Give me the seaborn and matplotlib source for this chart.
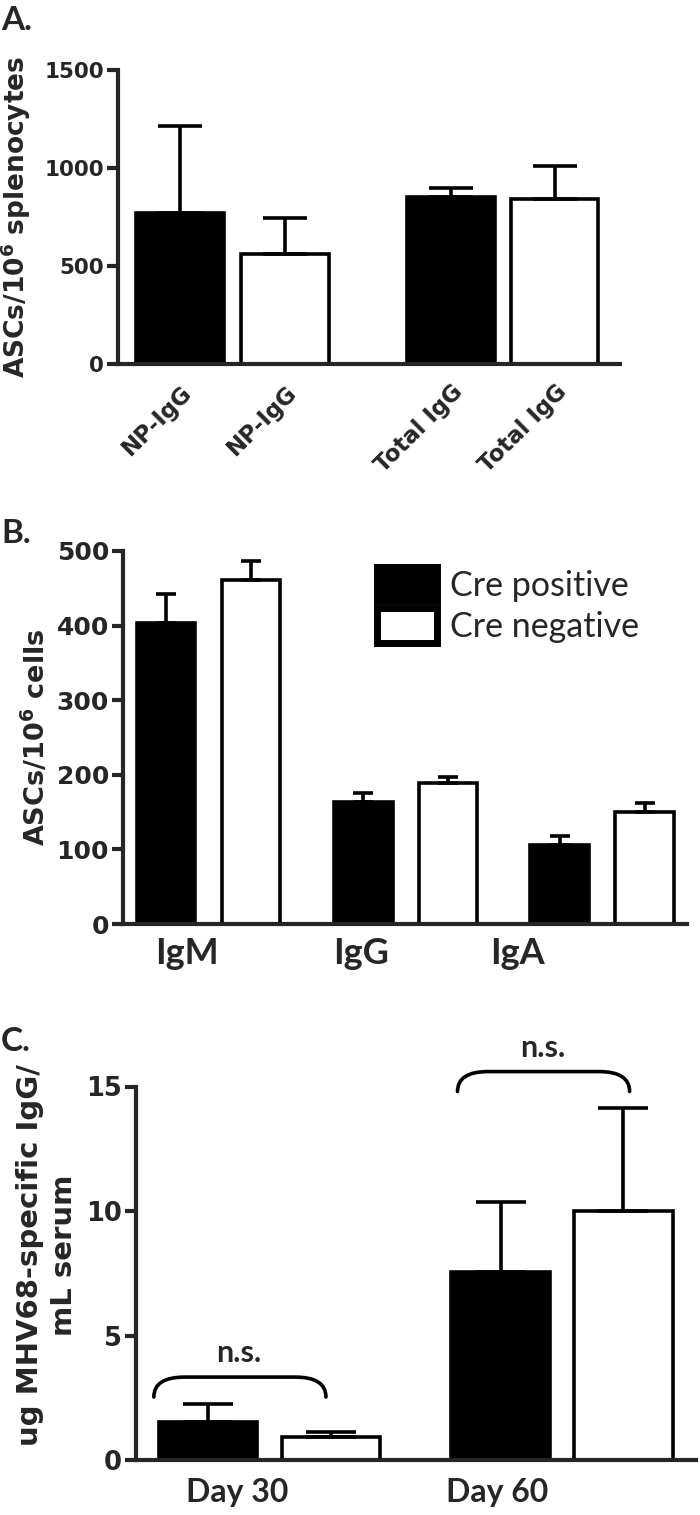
import numpy as np
import pandas as pd
import matplotlib
matplotlib.use("Agg")
import matplotlib.pyplot as plt
import seaborn as sns
from matplotlib.path import Path
from matplotlib.patches import PathPatch

# ---- data ----
groups = ["Cre positive", "Cre negative"]
group_colors = {"Cre positive": "black", "Cre negative": "white"}

# panel A
a_labels = ["NP-IgG", "NP-IgG", "Total IgG", "Total IgG"]
a_group = ["Cre positive", "Cre negative", "Cre positive", "Cre negative"]
a_mean = [769, 561, 852, 842]
a_err = [445, 184, 46, 170]

# panel B
b_iso = ["IgM", "IgM", "IgG", "IgG", "IgA", "IgA"]
b_group = ["Cre positive", "Cre negative"] * 3
b_mean = [403, 461, 164, 189, 106, 150]
b_err = [39, 25, 11, 8, 12, 12]

# panel C
c_day = ["Day 30", "Day 30", "Day 60", "Day 60"]
c_group = ["Cre positive", "Cre negative"] * 2
c_mean = [1.53, 0.91, 7.56, 10.02]
c_err = [0.71, 0.21, 2.81, 4.12]

# ---- layout (bar slots along x) ----
a_pos = [0, 1, 2.58, 3.57]
b_pos = [0, 1, 2.32, 3.32, 4.63, 5.63]
c_pos = [0, 1, 2.38, 3.38]
b_tick_pos = [0.25, 2.30, 4.14]
c_tick_pos = [0.24, 2.35]

sns.set_style("ticks")
plt.rcParams["font.family"] = ["DejaVu Sans"]
plt.rcParams["mathtext.fontset"] = "dejavusans"

W, H = 700, 1515
fig = plt.figure(figsize=(W / 100, H / 100), dpi=100)


def rect(left, top, right, bottom):
    return [left / W, 1 - bottom / H, (right - left) / W, (bottom - top) / H]


def bar_panel(ax, pos, means, errs, grp, bar_w, capsize, show_legend=False):
    df = pd.DataFrame({"pos": pos, "val": means, "group": grp})
    step = np.diff(sorted(pos)).min()
    sns.barplot(data=df, x="pos", y="val", hue="group", hue_order=groups,
                palette=group_colors, dodge=False, native_scale=True,
                width=bar_w / step, saturation=1, edgecolor="black",
                linewidth=2.6, legend=show_legend, ax=ax)
    ax.errorbar(pos, means, yerr=[np.zeros(len(errs)), errs], fmt="none",
                ecolor="black", elinewidth=2.6, capsize=capsize, capthick=2.6,
                zorder=1)
    for s in ["top", "right"]:
        ax.spines[s].set_visible(False)
    for s in ["left", "bottom"]:
        ax.spines[s].set_linewidth(3)
    ax.tick_params(axis="y", length=8, width=3, pad=2)
    ax.tick_params(axis="x", length=0)
    ax.set_xlabel("")


def bracket(ax, x0, x1, ytop, yend, r):
    verts = [(x0, yend), (x0, ytop), (x0 + r, ytop), (x1 - r, ytop),
             (x1, ytop), (x1, yend)]
    codes = [Path.MOVETO, Path.CURVE3, Path.CURVE3, Path.LINETO,
             Path.CURVE3, Path.CURVE3]
    ax.add_patch(PathPatch(Path(verts, codes), fill=False, lw=2.6,
                           ec="black", clip_on=False, capstyle="round"))


# ---- panel A ----
axA = fig.add_axes(rect(118, 70, 620, 364))
bar_panel(axA, a_pos, a_mean, a_err, a_group, 0.83, 16)
axA.set_xlim(-0.59, 4.19)
axA.set_ylim(0, 1500)
axA.set_yticks([0, 500, 1000, 1500], ["0", "500", "1000", "1500"],
               fontsize=15.5, fontweight="bold")
axA.set_xticks(a_pos, a_labels, rotation=45, ha="right", va="top",
               rotation_mode="anchor", fontsize=16.5, fontweight="bold")
axA.tick_params(axis="x", pad=12)
axA.set_ylabel(r"ASCs/10$^{\mathbf{6}}$ splenocytes", fontsize=19,
               fontweight="bold")
axA.yaxis.set_label_coords(-0.169, 0.5)

# ---- panel B ----
axB = fig.add_axes(rect(123, 551, 687, 924))
bar_panel(axB, b_pos, b_mean, b_err, b_group, 0.69, 7, show_legend=True)
axB.set_xlim(-0.506, 6.13)
axB.set_ylim(0, 500)
axB.set_yticks([0, 100, 200, 300, 400, 500],
               ["0", "100", "200", "300", "400", "500"],
               fontsize=18, fontweight="bold")
axB.set_xticks(b_tick_pos, b_iso[::2], fontsize=26, fontweight="bold",
               family="Lato")
axB.tick_params(axis="x", pad=9)
axB.set_ylabel(r"ASCs/10$^{\mathbf{6}}$ cells", fontsize=19.5,
               fontweight="bold")
axB.yaxis.set_label_coords(-0.128, 0.5)
handles, labels = axB.get_legend_handles_labels()
axB.get_legend().remove()
leg = axB.legend(handles, labels, loc="upper left",
                 bbox_to_anchor=(377 / W, 1 - 567 / H),
                 bbox_transform=fig.transFigure, frameon=False,
                 prop={"family": "Lato", "size": 24.5},
                 handlelength=1.76, handleheight=1.17, handletextpad=0.38,
                 labelspacing=0.2, borderpad=0, borderaxespad=0)
for h in leg.legend_handles:
    h.set_linewidth(5)

# ---- panel C ----
axC = fig.add_axes(rect(136, 1086.5, 696, 1460))
bar_panel(axC, c_pos, c_mean, c_err, c_group, 0.8, 18)
axC.set_xlim(-0.585, 3.97)
axC.set_ylim(0, 15)
axC.set_yticks([0, 5, 10, 15], ["0", "5", "10", "15"],
               fontsize=18.5, fontweight="bold")
axC.set_xticks(c_tick_pos, c_day[::2], fontsize=23, fontweight="bold",
               family="Lato")
axC.tick_params(axis="x", pad=13)
axC.set_ylabel("ug MHV68-specific IgG/\nmL serum", fontsize=21,
               fontweight="bold", linespacing=1.25)
axC.yaxis.set_label_coords(-0.104, 0.549)

bracket(axC, -0.44, 0.96, 3.33, 2.53, 0.25)
bracket(axC, 2.03, 3.43, 15.6, 14.8, 0.25)
axC.text(0.25, 3.75, "n.s.", ha="center", va="bottom", fontsize=22,
         fontweight="bold", family="Lato")
axC.text(2.72, 16.0, "n.s.", ha="center", va="bottom", fontsize=22,
         fontweight="bold", family="Lato", clip_on=False)

# ---- panel letters ----
for txt, top in [("A.", 6), ("B.", 519), ("C.", 1027)]:
    fig.text(1 / W, 1 - top / H, txt, ha="left", va="top", fontsize=24,
             fontweight="bold", family="Lato")

fig.savefig("out.png", dpi=100)
